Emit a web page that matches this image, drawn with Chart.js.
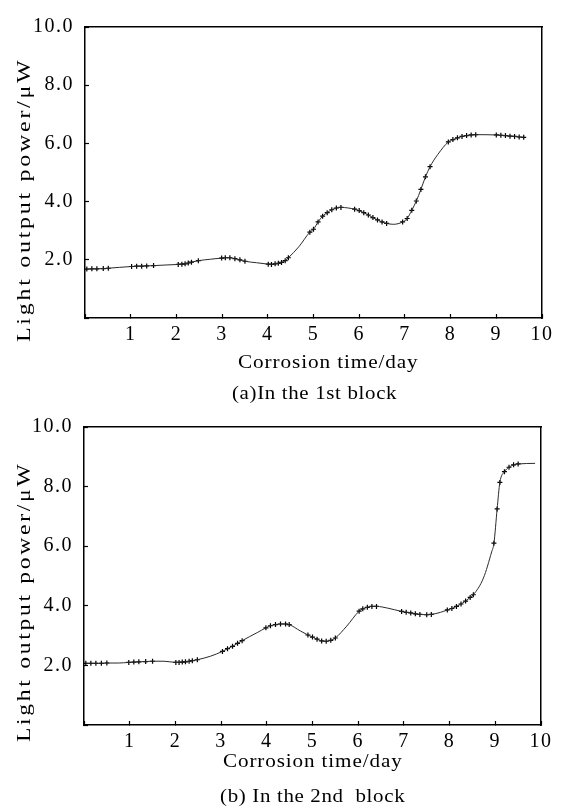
<!DOCTYPE html>
<html>
<head>
<meta charset="utf-8">
<script src="https://cdn.jsdelivr.net/npm/chart.js@4.4.1/dist/chart.umd.min.js"></script>
<style>
  html, body { margin: 0; padding: 0; background: #fff; }
  #page { position: relative; width: 568px; height: 808px; overflow: hidden; font-family: 'Liberation Serif', serif; color: #000; }
  .panel { position: absolute; left: 0; width: 568px; }
  .lbl { position: absolute; white-space: pre; font-size: 19px; line-height: 19px; transform-origin: 0 0; }
</style>
</head>
<body>
<div id="page">
  <div class="panel" style="top:0;height:400px"><canvas id="chartA"></canvas></div>
  <div class="panel" style="top:400px;height:408px"><canvas id="chartB"></canvas></div>
</div>
<script>
// (a) 1st block - measured points (day, uW), drawn with + marks
const daysA = [0.04, 0.15, 0.26, 0.40, 0.51, 1.02, 1.13, 1.24, 1.35, 1.50,
    2.04, 2.12, 2.19, 2.26, 2.33, 2.48, 2.99, 3.07, 3.17, 3.28, 3.39, 3.50,
    4.01, 4.08, 4.16, 4.23, 4.30, 4.38, 4.45, 4.92, 5.00, 5.10, 5.20, 5.30, 5.40, 5.50, 5.60,
    5.90, 6.00, 6.10, 6.20, 6.30, 6.40, 6.50, 6.60,
    6.95, 7.05, 7.15, 7.25, 7.35, 7.45, 7.55, 7.95, 8.05, 8.15, 8.25, 8.35, 8.45, 8.55,
    9.00, 9.10, 9.20, 9.30, 9.40, 9.50, 9.60];
const powerA = [1.68, 1.69, 1.69, 1.70, 1.71, 1.77, 1.78, 1.78, 1.79, 1.80,
    1.84, 1.85, 1.86, 1.89, 1.92, 1.97, 2.06, 2.07, 2.07, 2.04, 2.00, 1.95,
    1.85, 1.84, 1.86, 1.88, 1.91, 1.97, 2.07, 2.95, 3.05, 3.30, 3.50, 3.62, 3.72, 3.78, 3.80,
    3.74, 3.69, 3.62, 3.54, 3.45, 3.37, 3.30, 3.25,
    3.30, 3.42, 3.70, 4.02, 4.42, 4.85, 5.20, 6.05, 6.13, 6.19, 6.24, 6.27, 6.29, 6.30,
    6.29, 6.28, 6.27, 6.25, 6.24, 6.22, 6.21];
// points read off the fitted curve between the measurement runs (no marks)
const curveDaysA = [0.75, 1.75, 2.75, 3.75, 4.68, 6.75, 7.72];
const curvePowerA = [1.74, 1.82, 2.02, 1.90, 2.45, 3.22, 5.62];

// (b) 2nd block
const daysB = [0.04, 0.15, 0.26, 0.38, 0.50, 0.98, 1.09, 1.20, 1.35, 1.50,
    2.01, 2.08, 2.15, 2.22, 2.30, 2.37, 2.48, 3.03, 3.14, 3.25, 3.36, 3.46,
    3.98, 4.08, 4.19, 4.30, 4.41, 4.49, 4.90, 5.00, 5.10, 5.20, 5.30, 5.40, 5.50,
    6.02, 6.10, 6.20, 6.30, 6.40, 6.95, 7.05, 7.15, 7.25, 7.35, 7.50, 7.60,
    7.95, 8.05, 8.15, 8.25, 8.35, 8.45, 8.52, 8.97, 9.04, 9.10, 9.20, 9.30, 9.40, 9.50];
const powerB = [2.07, 2.07, 2.07, 2.07, 2.08, 2.10, 2.11, 2.12, 2.13, 2.14,
    2.10, 2.10, 2.11, 2.12, 2.14, 2.16, 2.19, 2.47, 2.56, 2.64, 2.74, 2.83,
    3.26, 3.33, 3.37, 3.39, 3.39, 3.37, 3.02, 2.95, 2.88, 2.82, 2.81, 2.84, 2.92,
    3.82, 3.90, 3.95, 3.98, 3.98, 3.81, 3.78, 3.76, 3.73, 3.71, 3.70, 3.71,
    3.86, 3.91, 3.98, 4.06, 4.16, 4.28, 4.37, 6.10, 7.25, 8.14, 8.50, 8.65, 8.73, 8.76];
const curveDaysB = [0.75, 1.75, 2.77, 3.79, 4.73, 5.75, 6.65, 7.80, 8.74, 8.92, 9.87];
const curvePowerB = [2.08, 2.14, 2.31, 3.10, 3.16, 3.32, 3.92, 3.78, 4.93, 5.81, 8.78];

const xRange = [0, 10];
const yRange = [0, 10];
const xTitle = 'Corrosion time/day';
const yTitle = 'Light output power/\u03bcW';
const captions = ['(a)In the 1st block', '(b) In the 2nd  block'];

Chart.defaults.font.family = "'Liberation Serif', serif";
Chart.defaults.color = '#000';

// the scan is stretched sideways, spread the tick digits a little
const wideText = {
    id: 'wideText',
    beforeDraw(chart) {
        chart.ctx.letterSpacing = '1.5px';
    },
};

function toPoints(days, power) {
    return days.map((d, i) => ({ x: d, y: power[i] }));
}

function makeChart(id, days, power, cDays, cPower, pad, yWidth, xHeight) {
    const curve = toPoints(days, power).concat(toPoints(cDays, cPower)).sort((a, b) => a.x - b.x);
    const frame = {
        type: 'linear',
        ticks: { display: false },
        grid: { display: false },
        border: { color: '#000', width: 1.5 },
    };
    return new Chart(document.getElementById(id), {
        type: 'line',
        data: {
            datasets: [
                {
                    data: curve,
                    borderColor: '#2a2a2a',
                    borderWidth: 1,
                    cubicInterpolationMode: 'monotone',
                    pointRadius: 0,
                    fill: false,
                },
                {
                    data: toPoints(days, power),
                    showLine: false,
                    pointStyle: 'cross',
                    pointRadius: 2.5,
                    pointHoverRadius: 2.5,
                    pointBorderWidth: 1.2,
                    pointBorderColor: '#000',
                },
            ],
        },
        options: {
            responsive: true,
            maintainAspectRatio: false,
            animation: false,
            events: [],
            layout: { padding: pad },
            plugins: { legend: { display: false }, tooltip: { enabled: false } },
            scales: {
                x: {
                    type: 'linear', position: 'bottom', min: xRange[0], max: xRange[1],
                    ticks: {
                        stepSize: 1, padding: 9, maxRotation: 0, autoSkip: false,
                        font: { size: 20 },
                        callback: (v) => (v === 0 ? '' : String(v)),
                    },
                    grid: { drawOnChartArea: false, tickLength: -4, color: '#000', tickWidth: 1.2 },
                    border: { color: '#000', width: 1.5 },
                    afterFit: (s) => { s.height = xHeight; },
                },
                y: {
                    type: 'linear', position: 'left', min: yRange[0], max: yRange[1],
                    ticks: {
                        stepSize: 2, padding: 15,
                        font: { size: 20 },
                        callback: (v) => (v === 0 ? '' : v.toFixed(1)),
                    },
                    grid: { drawOnChartArea: false, tickLength: -4, color: '#000', tickWidth: 1.2 },
                    border: { color: '#000', width: 1.5 },
                    afterFit: (s) => { s.width = yWidth; },
                },
                xTop: { ...frame, position: 'top', min: xRange[0], max: xRange[1], afterFit: (s) => { s.height = 0; } },
                yRight: { ...frame, position: 'right', min: yRange[0], max: yRange[1], afterFit: (s) => { s.width = 0; } },
            },
        },
        plugins: [wideText],
    });
}

makeChart('chartA', daysA, powerA, curveDaysA, curvePowerA, { top: 17, right: 26, left: 0, bottom: 0 }, 85, 82);
makeChart('chartB', daysB, powerB, curveDaysB, curvePowerB, { top: 24, right: 27, left: 0, bottom: 0 }, 84, 83);

// titles as html text, stretched like the scanned figure
const page = document.getElementById('page');
function placeText(text, cx, base, len, vertical, spacing) {
    const el = document.createElement('div');
    el.className = 'lbl';
    el.textContent = text;
    el.style.letterSpacing = (spacing || 0) + 'px';
    page.appendChild(el);
    const s = len / el.offsetWidth;
    if (vertical) {
        // base = x of baseline, cx = centre y
        el.style.left = (base - 15.9) + 'px';
        el.style.top = (cx + len / 2) + 'px';
        el.style.transform = 'rotate(-90deg) scaleX(' + s + ')';
    } else {
        el.style.left = (cx - len / 2) + 'px';
        el.style.top = (base - 15.9) + 'px';
        el.style.transform = 'scaleX(' + s + ')';
    }
}

placeText(yTitle, 200, 30, 284, true, 2.2);
placeText(xTitle, 328, 368.3, 181, false, 0.8);
placeText(captions[0], 314, 399.3, 165, false, 0.6);
placeText(yTitle, 602, 30, 280, true, 2.2);
placeText(xTitle, 313, 766.7, 180, false, 0.8);
placeText(captions[1], 312, 801.7, 185, false, 0.6);
</script>
</body>
</html>
